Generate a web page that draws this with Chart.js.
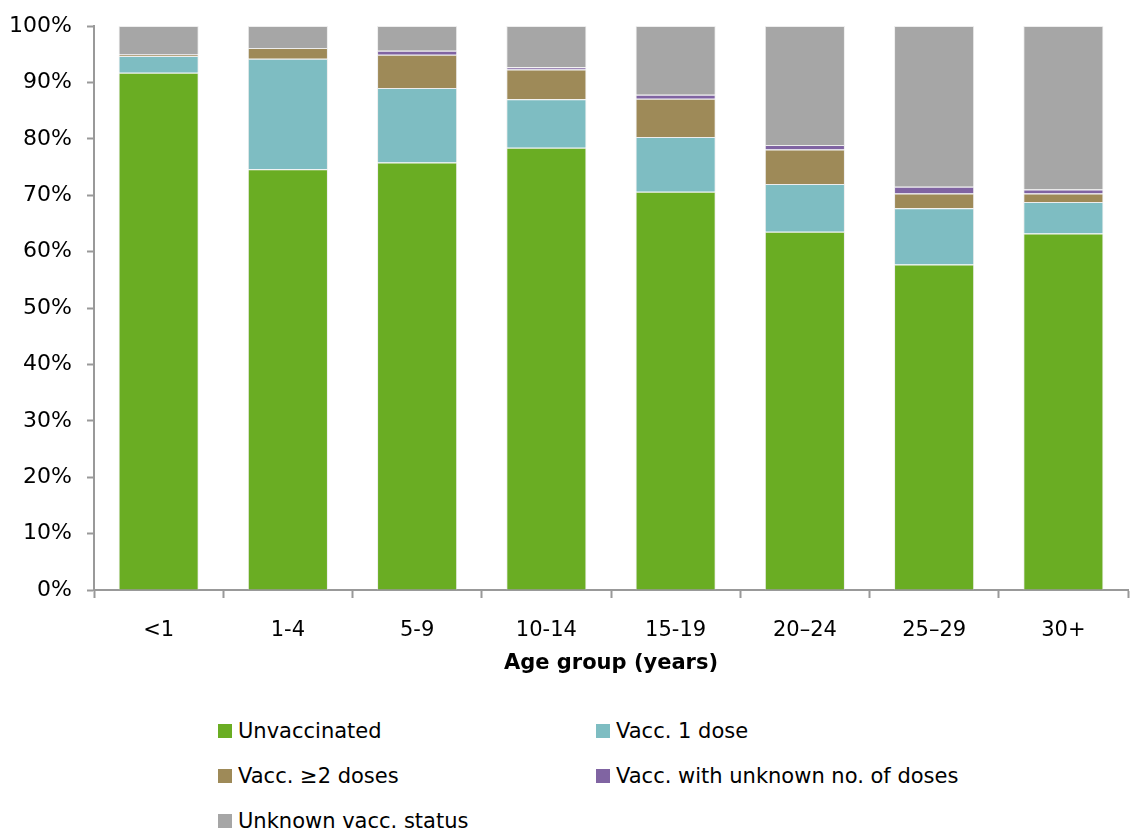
<!DOCTYPE html>
<html>
<head>
<meta charset="utf-8">
<script src="https://cdn.jsdelivr.net/npm/chart.js@4"></script>
<style>
  body { margin: 0; background: #fff; font-family: "DejaVu Sans", sans-serif; }
  #wrap { position: relative; width: 1144px; height: 690px; }
  #legend { position: absolute; left: 0; top: 0; width: 1144px; }
  .item { position: absolute; display: flex; align-items: center; font-size: 21px; color: #000; white-space: nowrap; }
  .box { width: 14px; height: 14px; margin-right: 6px; }
</style>
</head>
<body>
<div id="wrap"><canvas id="myChart"></canvas></div>
<div id="legend"></div>
<script>
const ageGroups = ['<1', '1-4', '5-9', '10-14', '15-19', '20–24', '25–29', '30+'];
const unvaccinated = [91.7, 74.6, 75.8, 78.4, 70.6, 63.5, 57.7, 63.2];
const oneDose = [3.0, 19.6, 13.2, 8.6, 9.7, 8.5, 10.0, 5.6];
const twoPlusDoses = [0.2, 1.9, 5.9, 5.3, 6.8, 6.1, 2.6, 1.5];
const unknownDoses = [0.05, 0.0, 0.7, 0.4, 0.7, 0.8, 1.2, 0.7];
const unknownStatus = [5.05, 3.9, 4.4, 7.3, 12.2, 21.1, 28.5, 29.0];
const yTicks = [0, 10, 20, 30, 40, 50, 60, 70, 80, 90, 100];

const seriesNames = ['Unvaccinated', 'Vacc. 1 dose', 'Vacc. ≥2 doses', 'Vacc. with unknown no. of doses', 'Unknown vacc. status'];
const seriesColors = ['#6aad23', '#7ebdc2', '#9e8a58', '#8064a2', '#a6a6a6'];
const seriesData = [unvaccinated, oneDose, twoPlusDoses, unknownDoses, unknownStatus];

const ctx = document.getElementById('myChart');
new Chart(ctx, {
  type: 'bar',
  data: {
    labels: ageGroups,
    datasets: seriesData.map((d, i) => ({
      label: seriesNames[i],
      data: d,
      backgroundColor: seriesColors[i],
      borderColor: 'rgba(235,235,235,0.9)',
      borderWidth: 1,
      barPercentage: 0.62,
      categoryPercentage: 1
    }))
  },
  options: {
    responsive: true,
    maintainAspectRatio: false,
    animation: false,
    layout: { padding: { left: 0, right: 16, top: 5, bottom: 10 } },
    plugins: { legend: { display: false }, tooltip: { enabled: false } },
    scales: {
      x: {
        stacked: true,
        grid: { offset: true, drawOnChartArea: false, color: '#999', tickLength: 8, tickWidth: 2 },
        border: { color: '#999', width: 2 },
        ticks: { color: '#000', font: { family: 'DejaVu Sans', size: 21 }, padding: 20, maxRotation: 0 },
        title: { display: true, text: 'Age group (years)', color: '#000', font: { family: 'DejaVu Sans', size: 21, weight: 'bold' }, padding: { top: 10, bottom: 4 } },
        afterFit: s => { s.height = 90; }
      },
      y: {
        stacked: true,
        min: 0,
        max: 100,
        afterBuildTicks: s => { s.ticks = yTicks.map(v => ({ value: v })); },
        grid: { drawOnChartArea: false, color: '#999', tickLength: 7, tickWidth: 2 },
        border: { color: '#999', width: 2 },
        ticks: { color: '#000', font: { family: 'DejaVu Sans', size: 22, lineHeight: 1 }, padding: 15, callback: v => v + '%' },
        afterFit: s => { s.width = 94; }
      }
    }
  }
});

// legend in two columns
const legend = document.getElementById('legend');
const cols = [218, 596];
const rows = [731, 776, 821];
seriesNames.forEach((name, i) => {
  const el = document.createElement('div');
  el.className = 'item';
  el.style.left = cols[i % 2] + 'px';
  el.style.top = (rows[Math.floor(i / 2)] - 12) + 'px';
  el.innerHTML = '<span class="box" style="background:' + seriesColors[i] + '"></span>' + name;
  legend.appendChild(el);
});
</script>
</body>
</html>
